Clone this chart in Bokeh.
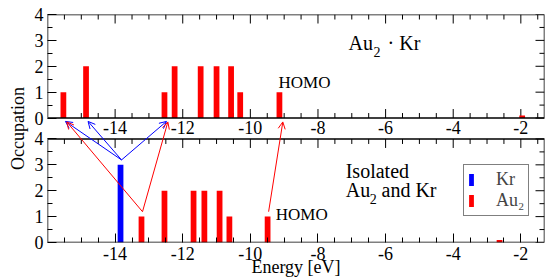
import math
from bokeh.plotting import figure
from bokeh.models import (LinearAxis, FixedTicker, BoxAnnotation, Arrow, OpenHead,
                          Label, LabelSet, Legend, LegendItem, Range1d, ColumnDataSource)
from bokeh.embed import file_html
from bokeh.resources import INLINE

# ---------------- data ----------------
# upper panel: Au2 . Kr complex (all levels drawn red)
complex_energy = [-15.53, -14.86, -12.54, -12.24, -11.47, -11.00, -10.57, -10.30, -9.14, -1.96]
complex_occ = [1, 2, 1, 2, 2, 2, 2, 1, 1, 0.1]
# lower panel: isolated Au2 and Kr
au2_energy = [-13.22, -12.54, -11.68, -11.36, -10.91, -10.62, -9.49, -2.63]
au2_occ = [1, 2, 2, 2, 2, 1, 1, 0.1]
kr_energy = [-13.84]
kr_occ = [3]

x_ticks = [-14, -12, -10, -8, -6, -4, -2]
x_tick_labels = ["-14", "-12", "-10", "-8", "-6", "-4", "-2"]
y_ticks = [0, 1, 2, 3, 4]
y_tick_labels = ["0", "1", "2", "3", "4"]

# arrows: Kr level -> complex levels ; Au2 level -> complex level
kr_links = [0, 1, 2]
au2_links = [(0, 0), (0, 2), (6, 8)]

# ---------------- layout constants ----------------
X_MIN, X_MAX = -16.0, -1.30
TOP = 4.808          # offset of the upper panel
PH = 4.0             # panel height (occupation range)
FONT = "Liberation Serif"
RED, BLUE = "#ff0000", "#0000ff"

p = figure(width=545, height=279, x_range=Range1d(X_MIN, X_MAX),
           y_range=Range1d(0, TOP + PH), x_axis_type=None, y_axis_type=None,
           output_backend="svg", toolbar_location=None,
           min_border_left=47, min_border_right=1, min_border_top=14, min_border_bottom=36)
p.outline_line_color = None
p.background_fill_color = "white"
p.border_fill_color = "white"

x_minor = [X_MIN + 0.5 * k for k in range(1, 30) if (X_MIN + 0.5 * k) % 2 != 0 and X_MIN + 0.5 * k < X_MAX]
y_major_all = y_ticks + [round(v + TOP, 3) for v in y_ticks]
y_minor_all = [v + 0.5 for v in y_ticks[:-1]] + [round(v + 0.5 + TOP, 3) for v in y_ticks[:-1]]
y_over = {}
for v, lab in zip(y_ticks, y_tick_labels):
    y_over[v] = lab
    y_over[round(v + TOP, 3)] = lab
x_over = dict(zip(x_ticks, x_tick_labels))


def style(ax):
    ax.axis_line_color = None
    ax.major_tick_in = 9
    ax.major_tick_out = 0
    ax.minor_tick_in = 5
    ax.minor_tick_out = 0
    ax.major_tick_line_color = "black"
    ax.minor_tick_line_color = "black"
    ax.major_label_text_font = FONT
    ax.axis_label_text_font = FONT
    ax.axis_label_text_font_style = "normal"
    ax.major_label_text_font_size = "18px"
    ax.axis_label_text_font_size = "18px"
    ax.major_label_text_color = "black"
    ax.axis_label_text_color = "black"


xb = LinearAxis(ticker=FixedTicker(ticks=x_ticks, minor_ticks=x_minor),
                major_label_overrides=x_over, axis_label="Energy [eV]")
style(xb)
xb.major_label_standoff = 4
xb.axis_label_standoff = -6
p.add_layout(xb, "below")

yl = LinearAxis(ticker=FixedTicker(ticks=y_major_all, minor_ticks=y_minor_all),
                major_label_overrides=y_over, axis_label="Occupation")
style(yl)
yl.major_label_standoff = 4
yl.axis_label_standoff = 4
p.add_layout(yl, "left")

# inward ticks on the remaining spines (top, right, and both inner spines)
tick_sets = [(x_ticks, 9), (x_minor, 5)]
for xs, ln in tick_sets:
    p.ray(x=xs, y=TOP + PH, length=ln, length_units="screen", angle=-math.pi / 2,
          line_color="black", line_width=1)
    p.ray(x=xs, y=PH, length=ln, length_units="screen", angle=-math.pi / 2,
          line_color="black", line_width=1)
    p.ray(x=xs, y=TOP, length=ln, length_units="screen", angle=math.pi / 2,
          line_color="black", line_width=1)
for ys, ln in [(y_major_all, 9), (y_minor_all, 5)]:
    p.ray(x=X_MAX, y=ys, length=ln, length_units="screen", angle=math.pi,
          line_color="black", line_width=1)

# tick labels of the upper panel
gap_src = ColumnDataSource(dict(x=x_ticks, y=[TOP] * len(x_ticks), t=x_tick_labels))
p.add_layout(LabelSet(source=gap_src, x="x", y="y", text="t", text_align="center",
                      text_baseline="top", y_offset=-3, text_font=FONT,
                      text_font_size="18px", text_color="black"))

# bars
W = 0.17
p.vbar(x=complex_energy, bottom=TOP, top=[TOP + o for o in complex_occ], width=W,
       fill_color=RED, line_color=None)
r_au = p.vbar(x=au2_energy, bottom=0, top=au2_occ, width=W, fill_color=RED, line_color=None)
r_kr = p.vbar(x=kr_energy, bottom=0, top=kr_occ, width=W, fill_color=BLUE, line_color=None)

# panel frames
for b, t in [(0, PH), (TOP, TOP + PH)]:
    p.add_layout(BoxAnnotation(left=X_MIN, right=X_MAX, bottom=b, top=t, fill_alpha=0,
                               line_color="black", line_width=1.5, line_alpha=1))

# arrows
kr_src = ColumnDataSource(dict(
    x0=[kr_energy[0] + 0.03] * len(kr_links), y0=[kr_occ[0] + 0.19] * len(kr_links),
    x1=[complex_energy[i] + 0.06 for i in kr_links], y1=[TOP - 0.13] * len(kr_links)))
p.add_layout(Arrow(source=kr_src, x_start="x0", y_start="y0", x_end="x1", y_end="y1",
                   line_color=BLUE, line_width=1,
                   end=OpenHead(size=7, line_color=BLUE, line_width=1)))
au_src = ColumnDataSource(dict(
    x0=[au2_energy[a] + 0.03 for a, c in au2_links], y0=[au2_occ[a] + 0.19 for a, c in au2_links],
    x1=[complex_energy[c] + 0.1 for a, c in au2_links], y1=[TOP - 0.15] * len(au2_links)))
p.add_layout(Arrow(source=au_src, x_start="x0", y_start="y0", x_end="x1", y_end="y1",
                   line_color=RED, line_width=1,
                   end=OpenHead(size=7, line_color=RED, line_width=1)))

# text annotations
def lab(x, y, t, size):
    p.add_layout(Label(x=x, y=y, text=t, text_font=FONT, text_font_size=size,
                       text_baseline="alphabetic", text_color="black"))

lab(-9.166, 6.19, "HOMO", "17px")
lab(-9.25, 1.077, "HOMO", "17px")
lab(-7.095, 7.69, "Au", "20px")
lab(-6.355, 7.365, "2", "14px")
lab(-5.94, 7.69, "\u00b7 Kr", "20px")
lab(-7.18, 2.77, "Isolated", "20px")
lab(-7.18, 2.02, "Au", "20px")
lab(-6.47, 1.69, "2", "14px")
lab(-6.12, 2.02, "and Kr", "20px")

legend = Legend(items=[LegendItem(label="Kr", renderers=[r_kr]),
                       LegendItem(label="Au\u2082", renderers=[r_au])],
                location=(416, 26), border_line_color="black", border_line_width=1,
                padding=4, spacing=0, margin=0, glyph_width=6, glyph_height=15,
                label_height=20, label_standoff=22, label_text_font=FONT,
                label_text_font_size="18px", background_fill_color="white",
                background_fill_alpha=1)
p.add_layout(legend)

open("out.html", "w").write(file_html(p, INLINE))
